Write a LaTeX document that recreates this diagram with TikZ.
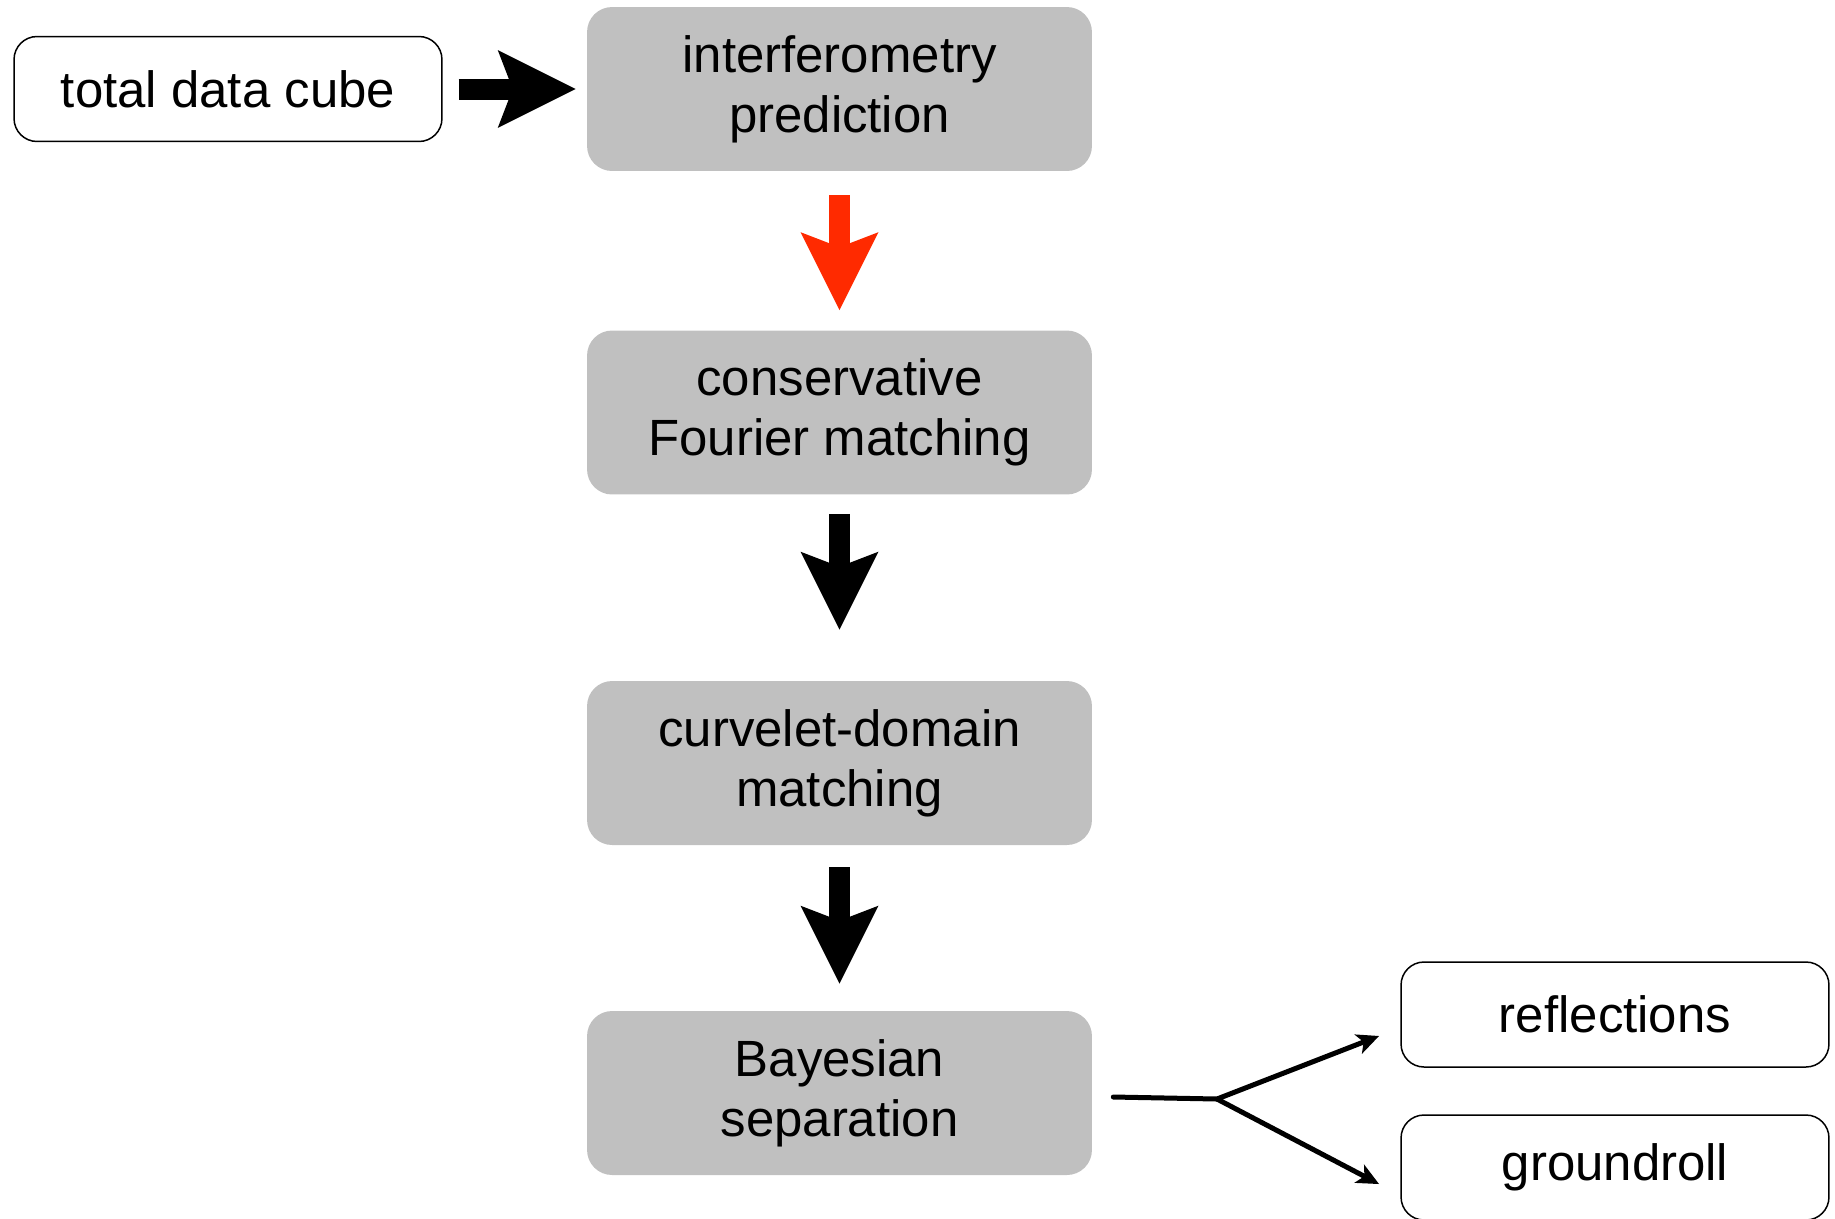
\documentclass[tikz,border=0pt]{standalone}
\usepackage{fontspec}
\setmainfont{Liberation Sans}
\usetikzlibrary{arrows.meta}

\definecolor{boxgray}{RGB}{192,192,192}
\definecolor{flowred}{RGB}{255,42,0}

\begin{document}
\begin{tikzpicture}[x=0.02cm,y=-0.02cm,
    every node/.style={font=\fontsize{29}{34}\selectfont, align=center},
    stage/.style={fill=boxgray, rounded corners=0.5cm, minimum width=10.1cm, minimum height=3.28cm},
    result/.style={draw, line width=0.03cm, rounded corners=0.46cm, minimum width=8.56cm, minimum height=2.1cm},
    bigarrow/.style={line width=0.42cm, -{Stealth[length=1.56cm, width=1.56cm, inset=0.3cm, line width=0pt]}},
    fork/.style={line width=0.1cm, line cap=round, -{Stealth[length=0.45cm, width=0.42cm, inset=0.12cm, line width=0pt]}}]

  \useasboundingbox (0,0) rectangle (1835,1218);

  % processing chain
  \node[stage] (interf) at (839.5,89)   {interferometry\\prediction};
  \node[stage] (cons)   at (839.5,412.5) {conservative\\Fourier matching};
  \node[stage] (curv)   at (839.5,763)  {curvelet-domain\\matching};
  \node[stage] (bayes)  at (839.5,1093) {Bayesian\\separation};

  % input and outputs
  \node[result] (cube)   at (228,89)    {total data cube};
  \node[result] (refl)   at (1615,1014.5) {reflections};
  \node[result] (ground) at (1615,1167.5) {groundroll};

  \draw[bigarrow, shorten <=0.32cm, shorten >=0.22cm] (cube.east) -- (interf.west);
  \draw[bigarrow, flowred, shorten <=0.48cm, shorten >=0.4cm] (interf.south) -- (cons.north);
  \draw[bigarrow, shorten <=0.38cm, shorten >=1.02cm] (cons.south) -- (curv.north);
  \draw[bigarrow, shorten <=0.44cm, shorten >=0.54cm] (curv.south) -- (bayes.north);

  \coordinate (split)    at (1217,1099);
  \coordinate (toRefl)   at (1379,1036);
  \coordinate (toGround) at (1379,1184);

  \draw[fork] ([xshift=0.42cm,yshift=-0.08cm]bayes.east) -- (split) -- (toRefl);
  \draw[fork] (split) -- (toGround);

\end{tikzpicture}
\end{document}
